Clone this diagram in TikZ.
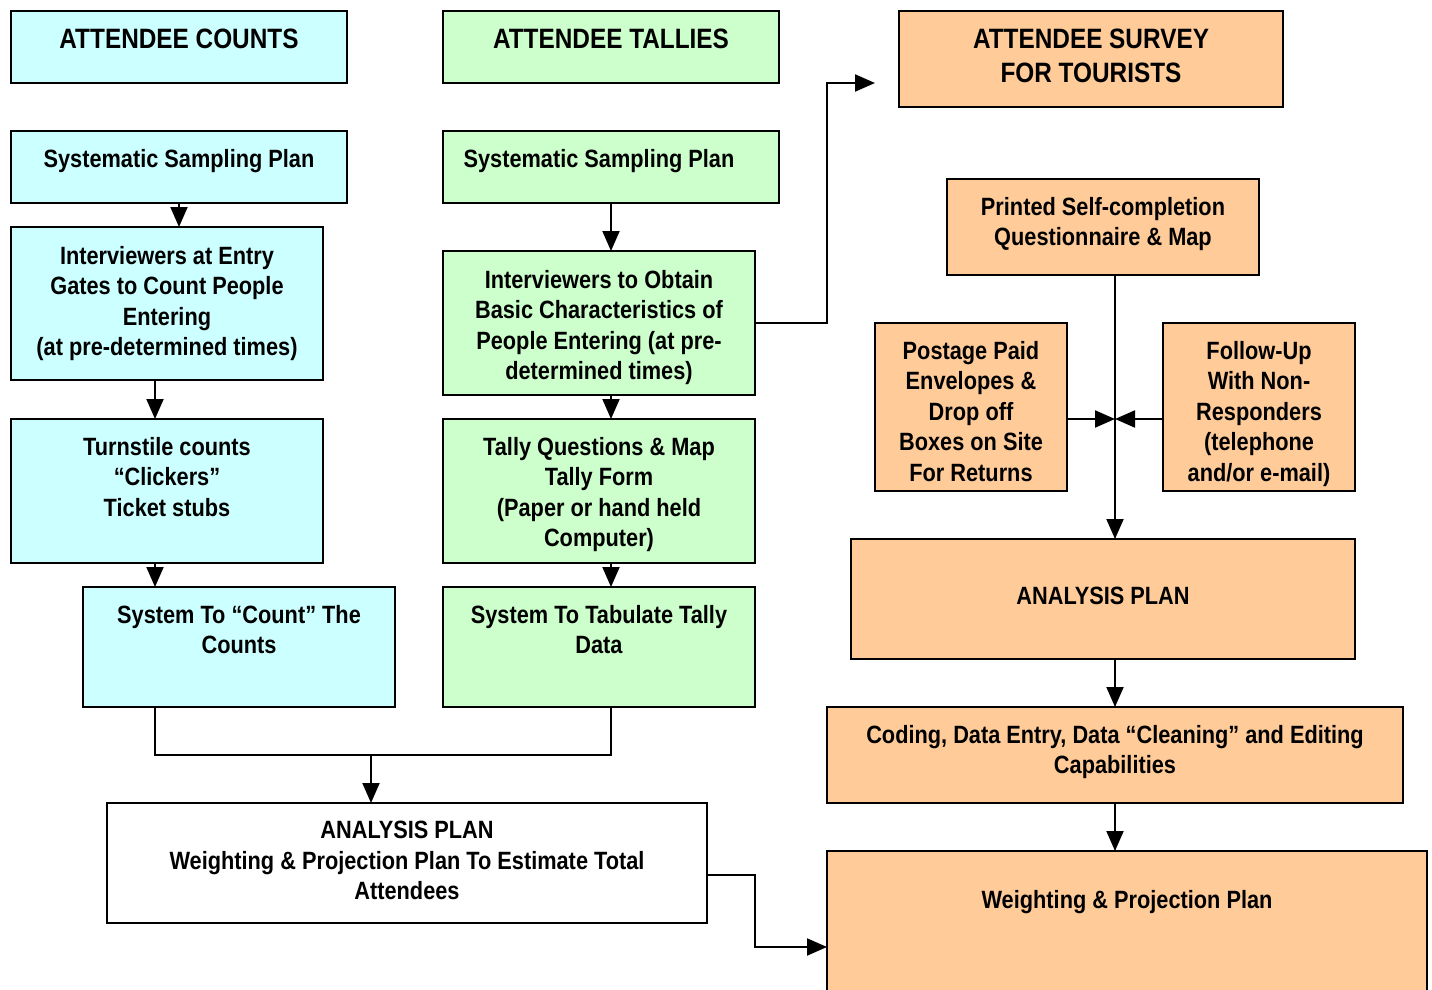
\documentclass[tikz,border=0pt]{standalone}
\usepackage{fontspec}
\setmainfont{Liberation Sans}[FakeStretch=0.87]
\usepackage{xcolor}
\usetikzlibrary{
  arrows.meta,
  positioning
}
\definecolor{cntfill}{HTML}{CCFFFF}
\definecolor{talfill}{HTML}{CCFFCC}
\definecolor{srvfill}{HTML}{FFCC99}
\tikzset{
  blk/.style={
    draw,
    line width=2pt,
    anchor=north west,
    inner sep=0pt,
    outer sep=0pt},
  lbl/.style={
    anchor=north,
    align=center,
    inner sep=0pt,
    font=\fontsize{25}{30.5}\selectfont\bfseries},
  head/.style={
    lbl,
    font=\fontsize{28}{34}\selectfont\bfseries},
  flow/.style={
    -{Triangle[length=20pt,width=17pt]},
    line width=2pt}
  }

\begin{document}
\begin{tikzpicture}[x=1pt,y=-1pt]
    \useasboundingbox (0,0) rectangle (1432,990);
    % column headings
    \node[blk, fill=cntfill, minimum width=336, minimum height=72] (ctitle) at (11,11) {};
    \node[head, below=18pt of ctitle.north] (ctitle-t) {ATTENDEE COUNTS};
    \node[blk, fill=talfill, minimum width=336, minimum height=72] (ttitle) at (443,11) {};
    \node[head, below=18pt of ttitle.north] (ttitle-t) {ATTENDEE TALLIES};
    \node[blk, fill=srvfill, minimum width=384, minimum height=96] (stitle) at (899,11) {};
    \node[head, below=18pt of stitle.north] (stitle-t) {ATTENDEE SURVEY\\FOR TOURISTS};
    % counts
    \node[blk, fill=cntfill, minimum width=336, minimum height=72] (cssp) at (11,131) {};
    \node[lbl, below=18pt of cssp.north] (cssp-t) {Systematic Sampling Plan};
    \node[blk, fill=cntfill, minimum width=312, minimum height=153] (cint) at (11,227) {};
    \node[lbl, below=19pt of cint.north] (cint-t) {Interviewers at Entry\\Gates to Count People\\Entering\\(at pre-determined times)};
    \node[blk, fill=cntfill, minimum width=312, minimum height=144] (cturn) at (11,419) {};
    \node[lbl, below=18pt of cturn.north] (cturn-t) {Turnstile counts\\“Clickers”\\Ticket stubs};
    \node[blk, fill=cntfill, minimum width=312, minimum height=120] (csys) at (83,587) {};
    \node[lbl, below=18pt of csys.north] (csys-t) {System To “Count” The\\Counts};
    % tallies
    \node[blk, fill=talfill, minimum width=336, minimum height=72] (tssp) at (443,131) {};
    \node[lbl, below=18pt of tssp.north, xshift=-12pt] (tssp-t) {Systematic Sampling Plan};
    \node[blk, fill=talfill, minimum width=312, minimum height=144] (tint) at (443,251) {};
    \node[lbl, below=19pt of tint.north] (tint-t) {Interviewers to Obtain\\Basic Characteristics of\\People Entering (at pre-\\determined times)};
    \node[blk, fill=talfill, minimum width=312, minimum height=144] (ttally) at (443,419) {};
    \node[lbl, below=18pt of ttally.north] (ttally-t) {Tally Questions \& Map\\Tally Form\\(Paper or hand held\\Computer)};
    \node[blk, fill=talfill, minimum width=312, minimum height=120] (tsys) at (443,587) {};
    \node[lbl, below=18pt of tsys.north] (tsys-t) {System To Tabulate Tally\\Data};
    \node[blk, fill=white, minimum width=600, minimum height=120] (ap) at (107,803) {};
    \node[lbl, below=18pt of ap.north] (ap-t) {ANALYSIS PLAN\\Weighting \& Projection Plan To Estimate Total\\Attendees};
    % survey
    \node[blk, fill=srvfill, minimum width=312, minimum height=96] (print) at (947,179) {};
    \node[lbl, below=18pt of print.north] (print-t) {Printed Self-completion\\Questionnaire \& Map};
    \node[blk, fill=srvfill, minimum width=192, minimum height=168] (post) at (875,323) {};
    \node[lbl, below=18pt of post.north] (post-t) {Postage Paid\\Envelopes \&\\Drop off\\Boxes on Site\\For Returns};
    \node[blk, fill=srvfill, minimum width=192, minimum height=168] (follow) at (1163,323) {};
    \node[lbl, below=18pt of follow.north] (follow-t) {Follow-Up\\With Non-\\Responders\\(telephone\\and/or e-mail)};
    \node[blk, fill=srvfill, minimum width=504, minimum height=120] (sap) at (851,539) {};
    \node[lbl, below=48pt of sap.north] (sap-t) {ANALYSIS PLAN};
    \node[blk, fill=srvfill, minimum width=576, minimum height=96] (coding) at (827,707) {};
    \node[lbl, below=18pt of coding.north] (coding-t) {Coding, Data Entry, Data “Cleaning” and Editing\\Capabilities};
    \node[blk, fill=srvfill, minimum width=600, minimum height=170] (weight) at (827,851) {};
    \node[lbl, below=39pt of weight.north] (weight-t) {Weighting \& Projection Plan};
    \coordinate (merge) at (371,755);
    \coordinate (meet) at (1115,419);
    \coordinate (sin) at (875,83);
    \draw [flow]
      (cssp.south) -- (cssp.south |- cint.north);
    \draw [flow]
      ([xshift=-12pt]cint.south) -- ([xshift=-12pt]cint.south |- cturn.north);
    \draw [flow]
      ([xshift=-12pt]cturn.south) -- ([xshift=-12pt]cturn.south |- csys.north);
    \draw [flow]
      (tssp.south) -- (tssp.south |- tint.north);
    \draw [flow]
      (tint.south -| tssp.south) -- (ttally.north -| tssp.south);
    \draw [flow]
      (ttally.south -| tssp.south) -- (tsys.north -| tssp.south);
    \draw [line width=2pt]
      ([xshift=-12pt]cturn.south |- csys.south) |- (merge) -| (tsys.south -| tssp.south);
    \draw [flow] (merge) -- (merge |- ap.north);
    \draw [flow] (tint.east) -- ++(72,0) |- (sin);
    \draw [flow] (print.south -| coding.north) -- (sap.north -| coding.north);
    \draw [flow] (post.east |- meet) -- (meet);
    \draw [flow] (follow.west |- meet) -- (meet);
    \draw [flow] (sap.south -| coding.north) -- (coding.north);
    \draw [flow] (coding.south) -- (coding.south |- weight.north);
    \draw [flow] ([yshift=-12pt]ap.east) -- ++(48,0) |- ([yshift=-96pt]weight.north west);
  \end{tikzpicture}
\end{document}
